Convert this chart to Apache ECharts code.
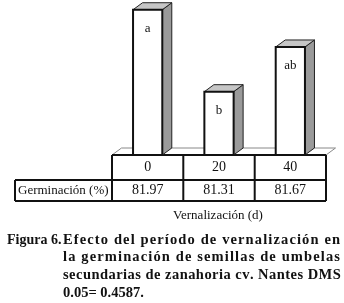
<!DOCTYPE html>
<html>
<head>
<meta charset="utf-8">
<script src="https://cdn.jsdelivr.net/npm/echarts@6/dist/echarts.min.js"></script>
<style>
  html, body { margin: 0; padding: 0; background: #fff; }
  #chart1 { width: 344px; height: 303px; }
</style>
</head>
<body>
<div id="chart1"></div>
<script>
const categories = ["0", "20", "40"];
const germinacion = [81.97, 81.31, 81.67];
const letras = ["a", "b", "ab"];
const rowLabel = "Germinación (%)";
const axisTitle = "Vernalización (d)";
const captionHead = "Figura 6.";
const captionLines = [
  "Efecto del período de vernalización en",
  "la germinación de semillas de umbelas",
  "secundarias de zanahoria cv. Nantes DMS",
  "0.05= 0.4587."
];

const serif = "'Liberation Serif', 'Times New Roman', serif";
const yMin = 80.8, yMax = 82;
const DX = 9.5, DY = 7;

// bars drawn as pseudo-3D boxes
function renderBox(params, api) {
  const idx = api.value(0);
  const top = api.coord([idx, api.value(1)]);
  const base = api.coord([idx, yMin]);
  const w = api.size([1, 0])[0] * 0.41;
  const x = top[0] - w / 2, y = top[1], b = base[1];
  return {
    type: 'group',
    children: [
      { type: 'polygon', shape: { points: [[x + w, y], [x + w + DX, y - DY], [x + w + DX, b - DY], [x + w, b]] },
        style: { fill: '#9a9a9a', stroke: '#222', lineWidth: 1 } },
      { type: 'polygon', shape: { points: [[x, y], [x + DX, y - DY], [x + w + DX, y - DY], [x + w, y]] },
        style: { fill: '#c6c6c6', stroke: '#222', lineWidth: 1 } },
      { type: 'rect', shape: { x: x, y: y, width: w, height: b - y },
        style: { fill: '#fff', stroke: '#111', lineWidth: 2 } },
      { type: 'text', x: top[0], y: y + 19,
        style: { text: letras[idx], font: '13px ' + serif, fill: '#111', align: 'center', verticalAlign: 'middle' } }
    ]
  };
}

// justified caption, one text per character
function captionGraphics() {
  const ctx = document.createElement('canvas').getContext('2d');
  const headFont = 'bold 14px ' + serif;
  const font = 'bold 14.5px ' + serif;
  ctx.font = font;
  const out = [];
  const x0 = 63, x1 = 340, lh = 17.6, y0 = 240;
  out.push({ type: 'text', x: 7, y: y0, style: { text: captionHead, font: headFont, fill: '#111', verticalAlign: 'middle' } });
  captionLines.forEach(function (line, li) {
    const y = y0 + li * lh;
    const last = li === captionLines.length - 1;
    const natural = ctx.measureText(line).width;
    const gap = last ? 0 : (x1 - x0 - natural) / (line.length - 1);
    let x = x0;
    for (const ch of line) {
      if (ch !== ' ') {
        out.push({ type: 'text', x: x, y: y, style: { text: ch, font: font, fill: '#111', verticalAlign: 'middle' } });
      }
      x += ctx.measureText(ch).width + gap;
    }
  });
  return out;
}

function tableGraphics() {
  const L = 112, R = 326, T = 155, M = 180, B = 201, F = 15;
  const cols = [L, 183.3, 254.7, R];
  const st = { stroke: '#111', lineWidth: 2 };
  const g = [];
  // floor
  g.push({ type: 'polygon', shape: { points: [[L, T], [L + DX, T - DY], [R + DX, T - DY], [R, T]] },
    style: { fill: '#fff', stroke: '#888', lineWidth: 1 }, z: -1 });
  g.push({ type: 'line', shape: { x1: L, y1: T, x2: R, y2: T }, style: st });
  g.push({ type: 'line', shape: { x1: F, y1: M, x2: R, y2: M }, style: st });
  g.push({ type: 'line', shape: { x1: F, y1: B, x2: R, y2: B }, style: st });
  g.push({ type: 'line', shape: { x1: F, y1: M, x2: F, y2: B }, style: st });
  cols.forEach(function (c) {
    g.push({ type: 'line', shape: { x1: c, y1: T, x2: c, y2: B }, style: st });
  });
  g.push({ type: 'text', x: 18, y: 190.5, style: { text: rowLabel, font: '13px ' + serif, fill: '#111', verticalAlign: 'middle' } });
  g.push({ type: 'text', x: 218, y: 216, style: { text: axisTitle, font: '13px ' + serif, fill: '#111', align: 'center', verticalAlign: 'middle' } });
  return g;
}

const chart1 = echarts.init(document.getElementById('chart1'));
chart1.setOption({
  animation: false,
  backgroundColor: '#fff',
  grid: { left: 112, right: 18, top: 6, bottom: 148 },
  xAxis: [
    { type: 'category', data: categories, position: 'bottom',
      axisLine: { show: false }, axisTick: { show: false },
      axisLabel: { margin: 5, fontFamily: serif, fontSize: 14, color: '#111' } },
    { type: 'category', data: germinacion.map(function (v) { return v.toFixed(2); }), position: 'bottom',
      axisLine: { show: false }, axisTick: { show: false },
      axisLabel: { margin: 28, fontFamily: serif, fontSize: 14, color: '#111' } }
  ],
  yAxis: { type: 'value', min: yMin, max: yMax, show: false, splitLine: { show: false } },
  series: [{
    type: 'custom',
    renderItem: renderBox,
    data: germinacion.map(function (v, i) { return [i, v]; }),
    encode: { x: 0, y: 1 },
    z: 5
  }],
  graphic: tableGraphics().concat(captionGraphics())
});

window.addEventListener('resize', function () {
  chart1.resize();
});
</script>
</body>
</html>
